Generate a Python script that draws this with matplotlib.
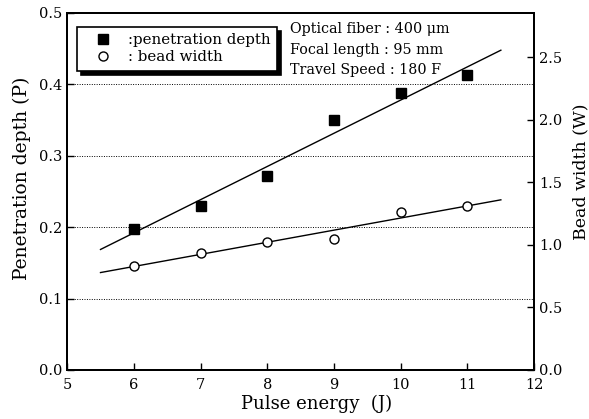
import matplotlib
matplotlib.use("Agg")
import matplotlib.pyplot as plt
import numpy as np

# data
pulse_energy = [6, 7, 8, 9, 10, 11]
penetration_depth = [0.198, 0.230, 0.271, 0.350, 0.388, 0.413]
bead_width = [0.834, 0.938, 1.026, 1.048, 1.262, 1.314]

left_ticks = [0.0, 0.1, 0.2, 0.3, 0.4, 0.5]
right_ticks = [0.0, 0.5, 1.0, 1.5, 2.0, 2.5]
x_ticks = [5, 6, 7, 8, 9, 10, 11, 12]

plt.rcParams['font.family'] = ['DejaVu Serif']
plt.rcParams['mathtext.fontset'] = 'dejavuserif'

fig = plt.figure(figsize=(5.89, 4.19), dpi=100)
ax = fig.add_axes([0.114, 0.117, 0.793, 0.852])
ax2 = ax.twinx()

# linear fits drawn from x=5.5 to x=11.5
xfit = np.array([5.5, 11.5])
p1 = np.polyfit(pulse_energy, penetration_depth, 1)
p2 = np.polyfit(pulse_energy, bead_width, 1)

ax.plot(xfit, np.polyval(p1, xfit), color='black', lw=1.0)
h1, = ax.plot(pulse_energy, penetration_depth, 's', color='black',
              markersize=6.5, linestyle='none')
ax2.plot(xfit, np.polyval(p2, xfit), color='black', lw=1.0)
h2, = ax2.plot(pulse_energy, bead_width, 'o', mfc='white', mec='black',
               mew=1.0, markersize=6.5, linestyle='none')

ax.set_xlim(5, 12)
ax.set_ylim(0, 0.5)
ax2.set_ylim(0, 2.856)
ax.set_xticks(x_ticks)
ax.set_yticks(left_ticks)
ax.set_yticklabels(['%.1f' % t for t in left_ticks])
ax2.set_yticks(right_ticks)
ax2.set_yticklabels(['%.1f' % t for t in right_ticks])

for t in [0.1, 0.2, 0.3, 0.4]:
    ax.axhline(t, color='black', lw=0.7, linestyle=(0, (1, 1.5)), zorder=0)

for a in (ax, ax2):
    a.tick_params(direction='in', labelsize=10.5, length=5, width=1.0)
    for s in a.spines.values():
        s.set_linewidth(1.4)
ax.tick_params(axis='x', pad=6)

ax.set_xlabel('Pulse energy  (J)', fontsize=13, labelpad=2)
ax.set_ylabel('Penetration depth (P)', fontsize=13.5, labelpad=6)
ax2.set_ylabel('Bead width (W)', fontsize=12.5, labelpad=7)
ax.xaxis.label.set_x(0.533)
ax.yaxis.label.set_y(0.538)
ax2.yaxis.label.set_y(0.555)

leg = ax.legend([h1, h2], [':penetration depth', ': bead width'],
                loc='upper left', bbox_to_anchor=(0.021, 0.962),
                borderaxespad=0, fancybox=False, edgecolor='black',
                framealpha=1, shadow={'color': 'black', 'alpha': 1,
                                      'ox': 3, 'oy': -3},
                fontsize=10.8, handlelength=2.6, handletextpad=0.35,
                borderpad=0.45, labelspacing=0.2)
leg.get_frame().set_linewidth(1.2)

ax.text(0.477, 0.975,
        'Optical fiber : 400 \u03bcm\nFocal length : 95 mm\nTravel Speed : 180 F',
        transform=ax.transAxes, fontsize=10.3, va='top', ha='left',
        linespacing=1.6)

fig.savefig('out.png', dpi=100)
